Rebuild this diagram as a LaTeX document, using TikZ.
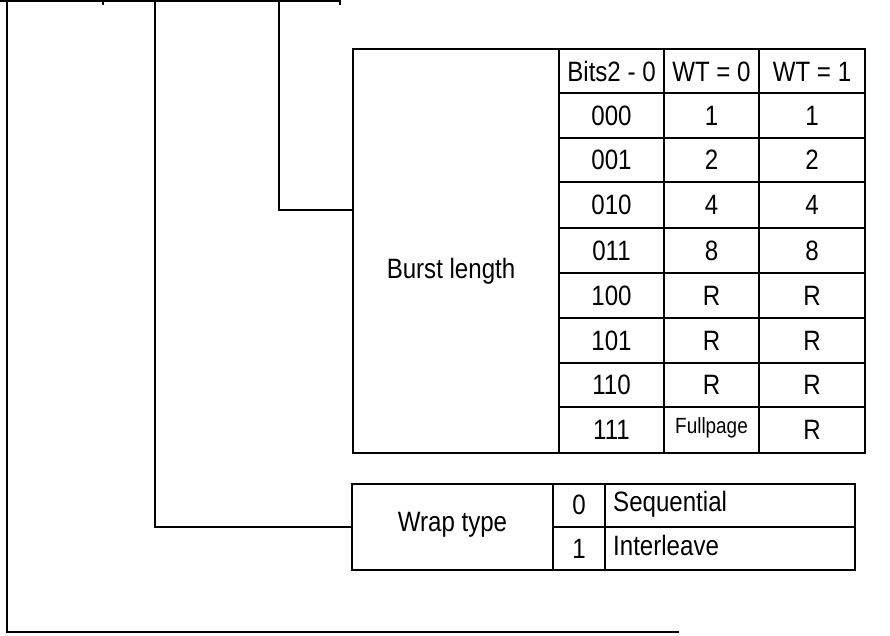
\documentclass[tikz,border=0pt]{standalone}
\usepackage{fontspec}
\setmainfont[FakeStretch=0.86]{Liberation Sans}
\begin{document}
\begin{tikzpicture}[x=1pt,y=-1pt,
  ln/.style={line width=2.2pt,line cap=rect},
  cell/.style={inner sep=0pt,font=\fontsize{28}{30}\selectfont},
  small/.style={inner sep=0pt,font=\fontsize{22}{24}\selectfont},
  box/.style={draw,line width=2.2pt,inner sep=0pt}]
\useasboundingbox (0,0) rectangle (890,636);
% top remnant of register
\coordinate (tl) at (0,1);
\coordinate (tr) at (340,1);
\draw[ln] (tl) -- (tr) -- ++(0,3);
\draw[ln] (103,1) -- (103,4);
% burst length block
\node[box,minimum width=206pt,minimum height=404pt] (burst) at (456,251) {};
\node[cell] (burstlbl) at (451,271) {Burst length};
\coordinate (c3) at (279,1);
\coordinate (b3) at (353,210);
\draw[ln] (c3) |- (b3);
% table grid
\draw[ln] (559,49) rectangle (865,453);
\foreach \x in {664,759} \draw[ln] (\x,49) -- (\x,453);
\foreach \y in {93,138,182,228,273,318,363,407} \draw[ln] (559,\y) -- (865,\y);
\node[cell] (h1) at (611.5,71) {Bits2 - 0};
\node[cell] (h2) at (711.5,72) {WT = 0};
\node[cell] (h3) at (812,72) {WT = 1};
\foreach \n/\y/\a/\b/\c in {r0/115.5/000/1/1, r1/160/001/2/2, r2/205/010/4/4, r3/250.5/011/8/8, r4/295.5/100/R/R, r5/340.5/101/R/R, r6/385/110/R/R}{
  \node[cell] (\n a) at (611.5,\y) {\a};
  \node[cell] (\n b) at (711.5,\y) {\b};
  \node[cell] (\n c) at (812,\y) {\c};
}
\node[cell] (r7a) at (611.5,430) {111};
\node[small] (r7b) at (711.5,428) {Fullpage};
\node[cell] (r7c) at (812,430) {R};
% wrap type block
\node[box,minimum width=201pt,minimum height=86pt] (wrap) at (452.5,527) {};
\node[cell] (wraplbl) at (452.5,525) {Wrap type};
\draw[ln] (553,484) rectangle (855,570);
\draw[ln] (605,484) -- (605,570);
\draw[ln] (553,527) -- (855,527);
\node[cell] (w0) at (579,505) {0};
\node[cell] (w1) at (579,549) {1};
\node[cell,anchor=west] (ws) at (613,504) {Sequential};
\node[cell,anchor=west] (wi) at (613,545) {Interleave};
\coordinate (c2) at (155,1);
\draw[ln] (c2) |- (wrap.west);
% bottom
\coordinate (c1) at (7,1);
\coordinate (e1) at (678,632);
\draw[ln] (c1) |- (e1);
\end{tikzpicture}
\end{document}
